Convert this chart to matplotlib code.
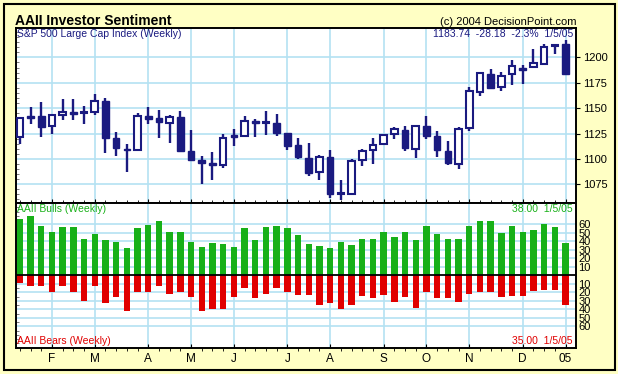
import matplotlib
matplotlib.use("Agg")
import matplotlib.pyplot as plt
from matplotlib.patches import Rectangle
from matplotlib.ticker import MultipleLocator
import numpy as np

# ---- data ----
opens = [1121.7, 1141.8, 1142.3, 1132.0, 1143.0, 1146.3, 1145.0, 1146.0, 1157.0, 1121.0,
         1110.0, 1109.0, 1142.0, 1140.0, 1135.0, 1141.3, 1107.3, 1099.3, 1096.3, 1094.0,
         1123.3, 1123.0, 1137.3, 1135.0, 1135.3, 1125.3, 1113.3, 1101.0, 1087.3, 1102.0,
         1065.0, 1065.0, 1099.0, 1109.0, 1114.3, 1125.0, 1128.0, 1110.0, 1132.0, 1123.0,
         1108.0, 1095.4, 1130.6, 1166.4, 1183.2, 1170.4, 1183.2, 1189.8, 1190.1, 1193.8,
         1211.5, 1212.8]
closes = [1140.0, 1140.4, 1131.7, 1143.0, 1146.0, 1144.7, 1145.3, 1157.0, 1120.7, 1111.0,
          1108.7, 1142.0, 1139.7, 1136.0, 1141.0, 1107.7, 1099.0, 1095.7, 1093.7, 1121.0,
          1121.7, 1137.0, 1135.7, 1135.3, 1125.7, 1112.7, 1101.7, 1086.0, 1102.0, 1065.0,
          1065.3, 1098.0, 1108.0, 1114.0, 1124.0, 1129.0, 1111.0, 1132.0, 1123.0, 1109.0,
          1096.0, 1129.6, 1166.8, 1184.2, 1169.7, 1181.9, 1191.4, 1187.8, 1194.1, 1209.9,
          1211.92, 1183.74]
highs = [1140.5, 1151.0, 1156.3, 1143.3, 1159.3, 1159.3, 1152.3, 1164.3, 1160.3, 1126.0,
         1115.0, 1145.0, 1151.0, 1148.0, 1143.3, 1147.3, 1128.3, 1103.3, 1106.3, 1124.3,
         1129.3, 1142.3, 1139.3, 1147.3, 1144.3, 1125.5, 1120.3, 1116.0, 1104.0, 1109.0,
         1079.0, 1100.0, 1110.0, 1121.0, 1125.0, 1131.0, 1132.0, 1132.3, 1142.3, 1127.0,
         1118.0, 1131.6, 1170.4, 1184.5, 1188.5, 1185.9, 1197.0, 1192.4, 1208.2, 1212.8,
         1213.2, 1217.1]
lows = [1114.7, 1134.7, 1121.7, 1124.7, 1138.3, 1138.3, 1134.7, 1143.7, 1106.0, 1102.7,
        1086.7, 1107.7, 1134.7, 1120.7, 1115.7, 1106.7, 1098.3, 1075.7, 1078.7, 1090.7,
        1112.7, 1123.0, 1121.7, 1123.7, 1122.7, 1108.3, 1100.3, 1082.7, 1079.0, 1061.7,
        1059.7, 1065.0, 1093.0, 1095.0, 1114.0, 1120.0, 1107.7, 1100.7, 1120.0, 1101.7,
        1093.7, 1090.5, 1127.3, 1162.2, 1169.1, 1167.1, 1172.4, 1173.4, 1189.1, 1193.1,
        1203.6, 1183.7]
bulls = [66, 70, 58, 51, 57, 57, 43, 49, 42, 39,
         32, 56, 59, 64, 51, 51, 39, 33, 38, 37,
         33, 56, 42, 57, 58, 56, 47, 37, 34.5, 32,
         39, 36, 43, 43, 51, 45, 51, 42, 58, 49,
         43, 43, 58, 64, 64, 50, 58, 51, 53, 60,
         57, 38]
bears = [9, 12, 13, 20, 13, 20, 30, 12, 33, 25,
         42, 20, 19, 13, 21.5, 20, 26, 42, 39, 39,
         26, 14.5, 27, 21.5, 14.5, 20, 23, 23, 34.5, 33,
         39, 34.5, 24, 27, 23, 31, 26, 38, 19, 27,
         27, 31, 21.5, 20, 20, 26, 24, 24, 18, 17,
         17, 35]
month_pos = [3, 7, 12, 16, 20, 25, 29, 34, 38, 42, 47, 51]
month_labels = ["F", "M", "A", "M", "J", "J", "A", "S", "O", "N", "D", "05"]
price_ticks = [1075, 1100, 1125, 1150, 1175, 1200]
sent_ticks = [-60, -50, -40, -30, -20, -10, 10, 20, 30, 40, 50, 60]

# ---- style ----
BG = "#FFFFC4"
NAVY = "#1A1A80"
GREEN = "#18B018"
RED = "#E00000"
GRID = "#B4E2F2"
FONT = ["Liberation Sans", "DejaVu Sans"]
plt.rcParams["font.family"] = FONT

W, H = 618, 374
fig = plt.figure(figsize=(W / 100, H / 100), dpi=100, facecolor=BG)

def fr(x0, y0, x1, y1):
    return [x0 / W, 1 - y1 / H, (x1 - x0) / W, (y1 - y0) / H]

ax1 = fig.add_axes(fr(16, 28, 575.7, 203))
ax2 = fig.add_axes(fr(16, 203, 575.7, 347.7), sharex=ax1)

x = np.arange(len(opens))
xlim = (-0.36, 51.95)

# candles
o = np.array(opens); c = np.array(closes)
up = c >= o
ax1.vlines(x, lows, highs, color=NAVY, lw=1.7, zorder=3)
body_bot = np.minimum(o, c)
body_h = np.maximum(np.abs(c - o), 1.2)
ax1.bar(x[up], body_h[up], bottom=body_bot[up], width=0.62, color="white",
        edgecolor=NAVY, linewidth=1.5, zorder=4)
ax1.bar(x[~up], body_h[~up], bottom=body_bot[~up], width=0.62, color=NAVY,
        edgecolor=NAVY, linewidth=1.0, zorder=4)
ax1.set_ylim(1056.5, 1229)
ax1.set_xlim(*xlim)

# sentiment bars
ax2.bar(x, bulls, width=0.6, color=GREEN, zorder=3)
ax2.bar(x, [-b for b in bears], width=0.6, color=RED, zorder=3)
ax2.axhline(0, color="black", lw=1.3, zorder=4)
ax2.set_ylim(-85, 85)

for ax in (ax1, ax2):
    ax.set_facecolor("white")
    for s in ax.spines.values():
        s.set_color("black")
        s.set_linewidth(1.4)
    for m in month_pos:
        ax.axvline(m, color=GRID, lw=1.2, zorder=1)
    ax.yaxis.set_ticks_position("right")
    ax.yaxis.set_minor_locator(MultipleLocator(5))
    ax.tick_params(axis="y", which="major", direction="out", length=3, width=0.8,
                   pad=2, labelsize=8, colors="black", left=False, right=True)
    ax.tick_params(axis="y", which="minor", direction="in", length=2, width=0.6,
                   left=True, right=False, color="#666666")
    ax.tick_params(axis="x", direction="in", length=3, width=0.8, colors="black")

for t in price_ticks:
    ax1.axhline(t, color=GRID, lw=1.2, zorder=1)
ax1.set_yticks(price_ticks)
ax1.set_yticklabels([str(t) for t in price_ticks])
ax1.tick_params(axis="x", labelbottom=False)
ax1.set_xticks(x, minor=True)
ax1.tick_params(axis="x", which="minor", direction="in", length=2, width=0.6)
ax1.set_xticks(month_pos)

for t in sent_ticks:
    ax2.axhline(t, color=GRID, lw=1.2, zorder=1)
ax2.set_yticks(sent_ticks)
ax2.set_yticklabels([str(abs(t)) for t in sent_ticks])
ax2.tick_params(axis="y", which="major", labelsize=8, length=0, pad=2)
ax2.set_xticks(month_pos)
ax2.set_xticklabels(month_labels)
ax2.tick_params(axis="x", labelsize=8.5, length=3, pad=4)

# texts
fig.text(15 / W, 1 - 25 / H, "AAII Investor Sentiment", fontsize=10,
         fontweight="bold", ha="left", va="baseline")
fig.text(577 / W, 1 - 25 / H, "(c) 2004 DecisionPoint.com", fontsize=8,
         ha="right", va="baseline")
ax1.text(0.002, 0.995, "S&P 500 Large Cap Index (Weekly)", transform=ax1.transAxes,
         color=NAVY, fontsize=7.5, ha="left", va="top")
ax1.text(0.995, 0.995, "1183.74  -28.18  -2.3%  1/5/05", transform=ax1.transAxes,
         color=NAVY, fontsize=7.5, ha="right", va="top")
ax2.text(0.002, 0.99, "AAII Bulls (Weekly)", transform=ax2.transAxes,
         color=GREEN, fontsize=7.5, ha="left", va="top")
ax2.text(0.995, 0.99, "38.00  1/5/05", transform=ax2.transAxes,
         color=GREEN, fontsize=7.5, ha="right", va="top")
ax2.text(0.002, 0.01, "AAII Bears (Weekly)", transform=ax2.transAxes,
         color=RED, fontsize=7.5, ha="left", va="bottom")
ax2.text(0.995, 0.01, "35.00  1/5/05", transform=ax2.transAxes,
         color=RED, fontsize=7.5, ha="right", va="bottom")

# outer frame
fig.patches.append(Rectangle((3.5 / W, 1 - 369.5 / H), 611.5 / W, 366 / H,
                             transform=fig.transFigure, fill=False,
                             edgecolor="black", linewidth=1.5))

fig.savefig("out.png", dpi=100, facecolor=BG)
